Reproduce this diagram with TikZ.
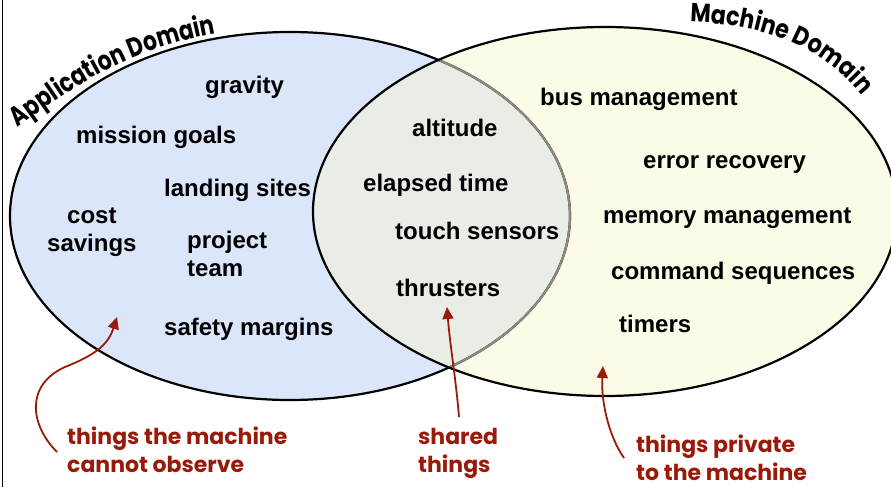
\documentclass[tikz,border=0pt]{standalone}
\usepackage{fontspec}
\setmainfont{Liberation Sans}
\newfontfamily\handfont{Poppins}
\newfontfamily\handnarrow[FakeStretch=0.8]{Poppins}
\newfontfamily\handsemi[FakeStretch=0.85]{Poppins}
\usetikzlibrary{decorations.text,arrows.meta}

\definecolor{appblue}{HTML}{DCE6FB}
\definecolor{machyellow}{HTML}{FCFBE8}
\definecolor{sharedgray}{HTML}{EAECE6}
\definecolor{rimgray}{HTML}{8A8A80}
\definecolor{notered}{HTML}{9A1A0A}

% the two domains
\def\appshape{(290,216) ellipse [x radius=280pt, y radius=184pt]}
\def\machshape{(605,211.5) ellipse [x radius=292pt, y radius=184.5pt]}

\begin{document}
\begin{tikzpicture}[x=1pt,y=-1pt,
  item/.style={font=\bfseries\fontsize{24}{28}\selectfont, inner sep=0pt, anchor=base west},
  note/.style={font=\handfont\bfseries\fontsize{22}{28}\selectfont, text=notered,
    inner sep=0pt, align=left, anchor=base west},
  pointer/.style={draw=notered, line width=1.8pt, -{Triangle[length=12pt,width=11pt]}},
  rim/.style={line width=2.2pt},
  arclabel/.style={decorate, decoration={text along path, text format delimiters={|}{|},
    text={#1}}},
]
\useasboundingbox (0,0) rectangle (891,487);

% frame edge
\draw[line width=1.2pt] (2.5,0) -- (2.5,487);

% fills: application, machine, and their overlap
\fill[appblue] \appshape;
\fill[machyellow] \machshape;
\begin{scope}
  \clip \appshape;
  \fill[sharedgray] \machshape;
\end{scope}
% outlines; the application rim seen through the machine domain is grey
\draw[rim] \appshape;
\begin{scope}
  \clip \machshape;
  \draw[rim, rimgray] \appshape;
\end{scope}
\draw[rim] \machshape;

% domain titles along the rims
\path[arclabel={|\handnarrow\bfseries\fontsize{27}{27}\selectfont|Application Domain}]
  (18,128) .. controls (88,76) and (140,43) .. (245,29);
\path[arclabel={|\handsemi\bfseries\fontsize{26}{26}\selectfont|Machine Domain}]
  (690,22) .. controls (770,24) and (838,52) .. (875,115);

% application domain
\node[item] (gravity) at (205,93) {gravity};
\node[item] (goals) at (76,143) {mission goals};
\node[item] (landing) at (164,196) {landing sites};
\node[item, align=center] (cost) at (47,251) {cost\\savings};
\node[item, align=left] (team) at (187,276) {project\\team};
\node[item] (safety) at (164,335) {safety margins};

% shared phenomena
\node[item] (altitude) at (412,136) {altitude};
\node[item] (elapsed) at (363,191) {elapsed time};
\node[item] (touch) at (395,239) {touch sensors};
\node[item] (thrusters) at (396,296) {thrusters};

% machine domain
\node[item] (bus) at (540,105) {bus management};
\node[item] (error) at (643,168) {error recovery};
\node[item] (memory) at (603,223) {memory management};
\node[item] (command) at (611,279) {command sequences};
\node[item] (timers) at (619,332) {timers};

% annotations
\node[note] (unobs) at (67,472) {things the machine\\cannot observe};
\node[note] (shared) at (418,472) {shared\\things};
\node[note] (private) at (636,480) {things private\\to the machine};

\coordinate (unobsTail) at (57,452);
\coordinate (unobsTip) at (117,317);
\coordinate (sharedTail) at (459,417);
\coordinate (sharedTip) at (447,307);
\coordinate (privateTail) at (624,458);
\coordinate (privateTip) at (603,366);

\draw[pointer] (unobsTail) .. controls (30,425) and (25,385) .. (65,367)
  .. controls (95,355) and (108,345) .. (unobsTip);
\draw[pointer] (sharedTail) .. controls (456,380) and (450,345) .. (sharedTip);
\draw[pointer] (privateTail) .. controls (608,435) and (601,400) .. (privateTip);
\end{tikzpicture}
\end{document}
